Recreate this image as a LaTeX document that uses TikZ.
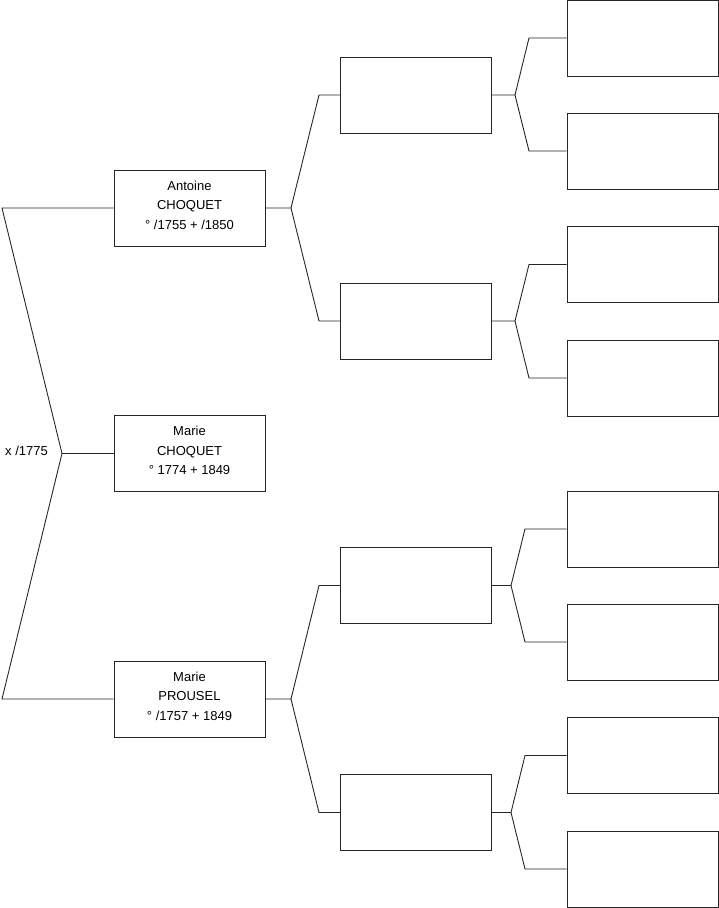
\documentclass[tikz,border=0pt]{standalone}
\usepackage{fontspec}
\setmainfont{Liberation Sans}
\usetikzlibrary{positioning,calc}

\tikzset{
  person/.style={draw=black!85, line width=0.9pt, minimum width=151pt, minimum height=76pt,
    align=center, inner sep=0pt, font=\fontsize{13}{19.5}\selectfont},
  named/.style={person, text depth=5.5pt},
  link/.style={draw=black!85, line width=0.9pt}
}

\begin{document}
\begin{tikzpicture}[x=1pt, y=-1pt]
    \useasboundingbox (0,0) rectangle (719,908);

    % Couple
    \node[named] (antoine) at (189.5,208) {Antoine\\CHOQUET\\° /1755 + /1850};
    \node[named] (marie)   at (189.5,453.5) {Marie\\CHOQUET\\° 1774 + 1849};
    \node[named] (prousel) at (189.5,699) {Marie\\PROUSEL\\° /1757 + 1849};

    % Marriage
    \coordinate (hus) at (2,208);
    \coordinate (wif) at (2,699);
    \coordinate (mar) at (62,453.5);
    \node[anchor=east, inner sep=0pt, font=\fontsize{13}{15}\selectfont] (wed) at (48,451) {x /1775};
    \draw[link] (antoine.west) -- (hus) -- (mar) -- (wif) -- (prousel.west);
    \draw[link] (mar) -- (marie.west);

    % Grandparents
    \node[person] (ga) at (416,95) {};
    \node[person] (gb) at (416,321) {};
    \node[person] (gc) at (416,585.5) {};
    \node[person] (gd) at (416,812.5) {};

    % Great-grandparents
    \foreach \n/\y in {a1/38, a2/151, b1/264.5, b2/378, c1/529, c2/642, d1/755.5, d2/869}
        \node[person] (g\n) at (642.5,\y) {};

    % Forks to grandparents
    \coordinate (fa) at (291,208);
    \coordinate (fp) at (291,699);
    \draw[link] (antoine.east) -- (fa) -- (319,95) -- (ga.west);
    \draw[link] (fa) -- (319,321) -- (gb.west);
    \draw[link] (prousel.east) -- (fp) -- (319,585.5) -- (gc.west);
    \draw[link] (fp) -- (319,812.5) -- (gd.west);

    % Forks to great-grandparents
    \foreach \g/\j/\b in {a/515/529, b/515/529, c/511/525, d/511/525} {
        \coordinate (j\g) at (\j, 0 |- g\g.east);
        \draw[link] (g\g.east) -- (j\g) -- (\b, 0 |- g\g1.west) -- (g\g1.west);
        \draw[link] (j\g) -- (\b, 0 |- g\g2.west) -- (g\g2.west);
    }
\end{tikzpicture}
\end{document}
